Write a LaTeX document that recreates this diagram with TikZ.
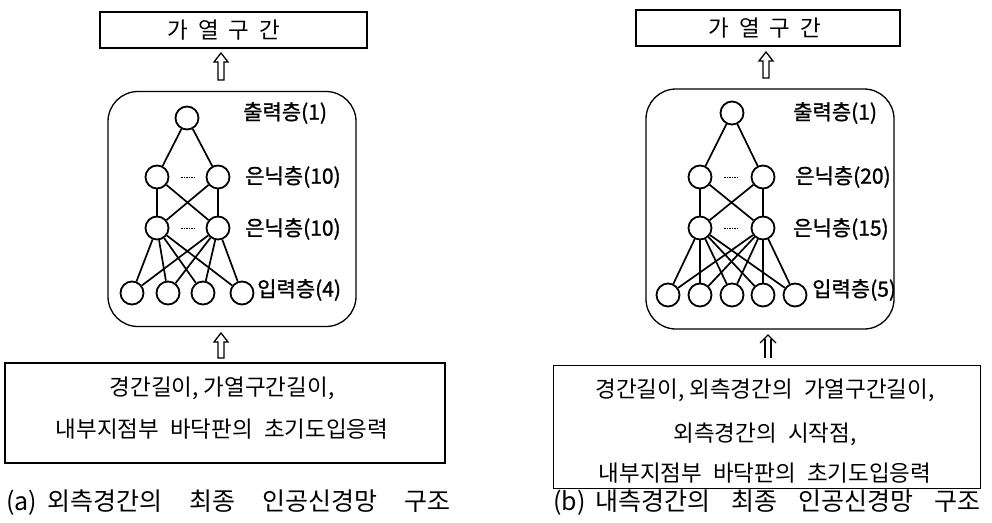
\documentclass[tikz,border=0pt]{standalone}
\usepackage{fontspec}
\setmainfont{Noto Sans CJK KR}
\newfontfamily\krb[FakeBold=1.2]{Noto Sans CJK KR}
\begin{document}
\begin{tikzpicture}[x=1pt,y=-1pt,
  neuron/.style={draw,circle,line width=1.8pt,minimum size=23pt,inner sep=0pt},
  wire/.style={line width=1.7pt},
  frame/.style={draw,line width=1.3pt},
  netbox/.style={draw,line width=1.3pt,rounded corners=30pt},
  lbl/.style={font=\krb\fontsize{21}{23}\selectfont,anchor=west,inner sep=0pt},
  boxtext/.style={font=\fontsize{22.5}{24}\selectfont,inner sep=0pt},
  captext/.style={font=\fontsize{25}{27}\selectfont,inner sep=0pt,anchor=west},
  hollow/.style={draw,line width=1.3pt,fill=white},
  ddots/.style={line width=0.8pt,dash pattern=on 1.5pt off 1pt}]
\useasboundingbox (0,0) rectangle (992,522);

% ---------------- panel (a) ----------------
\node[frame,minimum width=267pt,minimum height=36pt,inner sep=0pt] (aTop) at (233.5,30) {};
\node[boxtext] (aTopT) at (224,30) {가\hspace{10pt}열\hspace{10pt}구\hspace{10pt}간};
\draw[hollow] (221,53) -- (228,62) -- (224,62) -- (224,80) -- (218,80) -- (218,62) -- (214,62) -- cycle;
\node[netbox,minimum width=248pt,minimum height=235pt,inner sep=0pt] (aNet) at (232,209) {};
\node[neuron] (aO) at (187,118) {};
\node[neuron] (aH1) at (157,177) {};
\node[neuron] (aH2) at (218,177) {};
\node[neuron] (aG1) at (157,228) {};
\node[neuron] (aG2) at (218,228) {};
\node[neuron] (aI1) at (132,293) {};
\node[neuron] (aI2) at (168,293) {};
\node[neuron] (aI3) at (203,293) {};
\node[neuron] (aI4) at (242,293) {};
\draw[ddots] (181,177) -- (194,177);
\draw[ddots] (181,228) -- (194,228);
\foreach \a in {aH1,aH2} \draw[wire] (aO) -- (\a);
\foreach \a in {aH1,aH2} \foreach \b in {aG1,aG2} \draw[wire] (\a) -- (\b);
\foreach \a in {aG1,aG2} \foreach \b in {aI1,aI2,aI3,aI4} \draw[wire] (\a) -- (\b);
\node[lbl] (aL1) at (243,113) {출력층(1)};
\node[lbl] (aL2) at (245,177) {은닉층(10)};
\node[lbl] (aL3) at (245,229) {은닉층(10)};
\node[lbl] (aL4) at (257,290) {입력층(4)};
\draw[hollow] (221,333) -- (228,342) -- (224,342) -- (224,358) -- (218,358) -- (218,342) -- (214,342) -- cycle;
\node[frame,minimum width=440pt,minimum height=100pt,inner sep=0pt] (aIn) at (225,413) {};
\node[boxtext] (aIn1) at (222,388) {경간길이, 가열구간길이,};
\node[boxtext] (aIn2) at (222,429) {내부지점부\hspace{11pt}바닥판의\hspace{11pt}초기도입응력};
\node[captext] (aCap) at (6,503) {(a)\hspace{10pt}외측경간의\hspace{27pt}최종\hspace{27pt}인공신경망\hspace{27pt}구조};

% ---------------- panel (b) ----------------
\node[frame,minimum width=264pt,minimum height=36pt,inner sep=0pt] (bTop) at (768,28) {};
\node[boxtext] (bTopT) at (765,28) {가\hspace{10pt}열\hspace{10pt}구\hspace{10pt}간};
\draw[hollow] (766,52) -- (773,61) -- (769,61) -- (769,78) -- (763,78) -- (763,61) -- (759,61) -- cycle;
\node[netbox,minimum width=248pt,minimum height=240pt,inner sep=0pt] (bNet) at (770,209) {};
\node[neuron] (bO) at (732,113) {};
\node[neuron] (bH1) at (700,177) {};
\node[neuron] (bH2) at (763,177) {};
\node[neuron] (bG1) at (700,228) {};
\node[neuron] (bG2) at (763,228) {};
\node[neuron] (bI1) at (668,295) {};
\node[neuron] (bI2) at (700,295) {};
\node[neuron] (bI3) at (732,295) {};
\node[neuron] (bI4) at (763,295) {};
\node[neuron] (bI5) at (795,295) {};
\draw[ddots] (724,177) -- (739,177);
\draw[ddots] (724,228) -- (739,228);
\foreach \a in {bH1,bH2} \draw[wire] (bO) -- (\a);
\foreach \a in {bH1,bH2} \foreach \b in {bG1,bG2} \draw[wire] (\a) -- (\b);
\foreach \a in {bG1,bG2} \foreach \b in {bI1,bI2,bI3,bI4,bI5} \draw[wire] (\a) -- (\b);
\node[lbl] (bL1) at (793,113) {출력층(1)};
\node[lbl] (bL2) at (795,177) {은닉층(20)};
\node[lbl] (bL3) at (793,229) {은닉층(15)};
\node[lbl] (bL4) at (812,290) {입력층(5)};
\draw[line width=1.3pt] (760,343) -- (768,335) -- (776,343);
\draw[line width=1.3pt] (765,339) -- (765,358);
\draw[line width=1.3pt] (771,339) -- (771,358);
\node[frame,minimum width=427pt,minimum height=123pt,inner sep=0pt] (bIn) at (767,427) {};
\node[boxtext] (bIn1) at (765,390) {경간길이, 외측경간의\hspace{11pt}가열구간길이,};
\node[boxtext] (bIn2) at (765,434) {외측경간의\hspace{11pt}시작점,};
\node[boxtext] (bIn3) at (765,473) {내부지점부\hspace{11pt}바닥판의\hspace{11pt}초기도입응력};
\node[captext] (bCap) at (553,503) {(b)\hspace{10pt}내측경간의\hspace{21pt}최종\hspace{21pt}인공신경망\hspace{21pt}구조};
\end{tikzpicture}
\end{document}
